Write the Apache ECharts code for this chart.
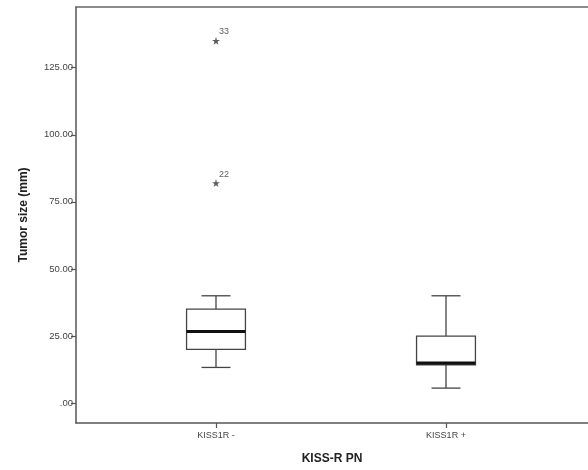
<!DOCTYPE html>
<html>
<head>
<meta charset="utf-8">
<script src="https://cdn.jsdelivr.net/npm/echarts@6/dist/echarts.min.js"></script>
<style>
html, body { margin: 0; padding: 0; background: #fff; }
#box { width: 588px; height: 470px; }
</style>
</head>
<body>
<div id="box"></div>
<script>
// --- data ---
var categories = ['KISS1R -', 'KISS1R +'];
var lowWhisker = [13.3, 5.6];
var q1 = [20, 14.3];
var median = [26.7, 15];
var q3 = [35, 25];
var highWhisker = [40, 40];
// extreme cases (SPSS asterisks)
var outlierGroup = [0, 0];
var outlierValue = [135, 82];
var outlierCase = ['33', '22'];
var yTicks = [0, 25, 50, 75, 100, 125];

var boxData = categories.map(function (c, i) {
	return [i, lowWhisker[i], q1[i], median[i], q3[i], highWhisker[i]];
});
var outlierData = outlierValue.map(function (v, i) {
	return [outlierGroup[i], v, outlierCase[i]];
});

var lineColor = '#444';

// box + whiskers, drawn through the axes
function renderBox(params, api) {
	var x = api.value(0);
	var pLow = api.coord([x, api.value(1)]);
	var pQ1 = api.coord([x, api.value(2)]);
	var pMed = api.coord([x, api.value(3)]);
	var pQ3 = api.coord([x, api.value(4)]);
	var pHigh = api.coord([x, api.value(5)]);
	var band = api.size([1, 0])[0];
	var half = band * 0.128;
	var cap = band * 0.063;
	var cx = pMed[0];
	var st = { stroke: lineColor, lineWidth: 1.3, fill: null };
	return {
		type: 'group',
		children: [
			{ type: 'line', shape: { x1: cx, y1: pLow[1], x2: cx, y2: pQ1[1] }, style: st },
			{ type: 'line', shape: { x1: cx, y1: pQ3[1], x2: cx, y2: pHigh[1] }, style: st },
			{ type: 'line', shape: { x1: cx - cap, y1: pLow[1], x2: cx + cap, y2: pLow[1] }, style: st },
			{ type: 'line', shape: { x1: cx - cap, y1: pHigh[1], x2: cx + cap, y2: pHigh[1] }, style: st },
			{ type: 'rect', shape: { x: cx - half, y: pQ3[1], width: half * 2, height: pQ1[1] - pQ3[1] },
				style: { fill: '#fff', stroke: lineColor, lineWidth: 1.3 } },
			{ type: 'line', shape: { x1: cx - half, y1: pMed[1], x2: cx + half, y2: pMed[1] },
				style: { stroke: '#111', lineWidth: 3 } }
		]
	};
}

var axisFont = {
	fontFamily: 'Liberation Sans',
	fontSize: 12,
	fontWeight: 'bold',
	color: '#222'
};

var myChart = echarts.init(document.getElementById('box'));
myChart.setOption({
	backgroundColor: '#fff',
	animation: false,
	grid: {
		left: 76,
		right: 0,
		top: 7,
		bottom: 47
	},
	xAxis: [
		{
			type: 'value',
			min: -0.6087,
			max: 1.6174,
			name: 'KISS-R PN',
			nameLocation: 'middle',
			nameGap: 30,
			nameTextStyle: axisFont,
			splitLine: { show: false },
			axisLine: { show: true, onZero: false, lineStyle: { color: '#555', width: 1.5 } },
			axisTick: { show: true, length: 5, customValues: [0, 1], lineStyle: { color: '#555', width: 1.2 } },
			axisLabel: {
				customValues: [0, 1],
				margin: 8,
				fontFamily: 'Liberation Sans',
				fontSize: 9,
				color: '#444',
				formatter: function (v) { return categories[Math.round(v)]; }
			}
		},
		{
			// top frame line only
			type: 'value',
			position: 'top',
			min: -0.6087,
			max: 1.6174,
			splitLine: { show: false },
			axisLine: { show: true, onZero: false, lineStyle: { color: '#666', width: 1.5 } },
			axisTick: { show: false },
			axisLabel: { show: false }
		}
	],
	yAxis: {
		type: 'value',
		min: -7.4,
		max: 147.6,
		name: 'Tumor size (mm)',
		nameLocation: 'middle',
		nameGap: 46,
		nameTextStyle: axisFont,
		splitLine: { show: false },
		axisLine: { show: true, onZero: false, lineStyle: { color: '#555', width: 1.5 } },
		axisTick: { show: true, length: 5, customValues: yTicks, lineStyle: { color: '#555', width: 1.2 } },
		axisLabel: {
			customValues: yTicks,
			margin: 3,
			fontFamily: 'Liberation Sans',
			fontSize: 9.5,
			color: '#444',
			formatter: function (v) { return v === 0 ? '.00' : v.toFixed(2); }
		}
	},
	series: [
		{
			name: 'box',
			type: 'custom',
			renderItem: renderBox,
			encode: { x: 0, y: [1, 2, 3, 4, 5] },
			data: boxData,
			z: 3
		},
		{
			name: 'extreme',
			type: 'scatter',
			symbol: 'path://M50,0 L61,35 L98,35 L68,57 L79,91 L50,70 L21,91 L32,57 L2,35 L39,35 Z',
			symbolSize: 8,
			itemStyle: { color: '#333' },
			label: {
				show: true,
				position: 'right',
				distance: 0,
				offset: [-1, -9],
				fontFamily: 'Liberation Sans',
				fontSize: 9,
				color: '#333',
				formatter: function (p) { return p.value[2]; }
			},
			data: outlierData,
			z: 4
		}
	]
});
</script>
</body>
</html>
